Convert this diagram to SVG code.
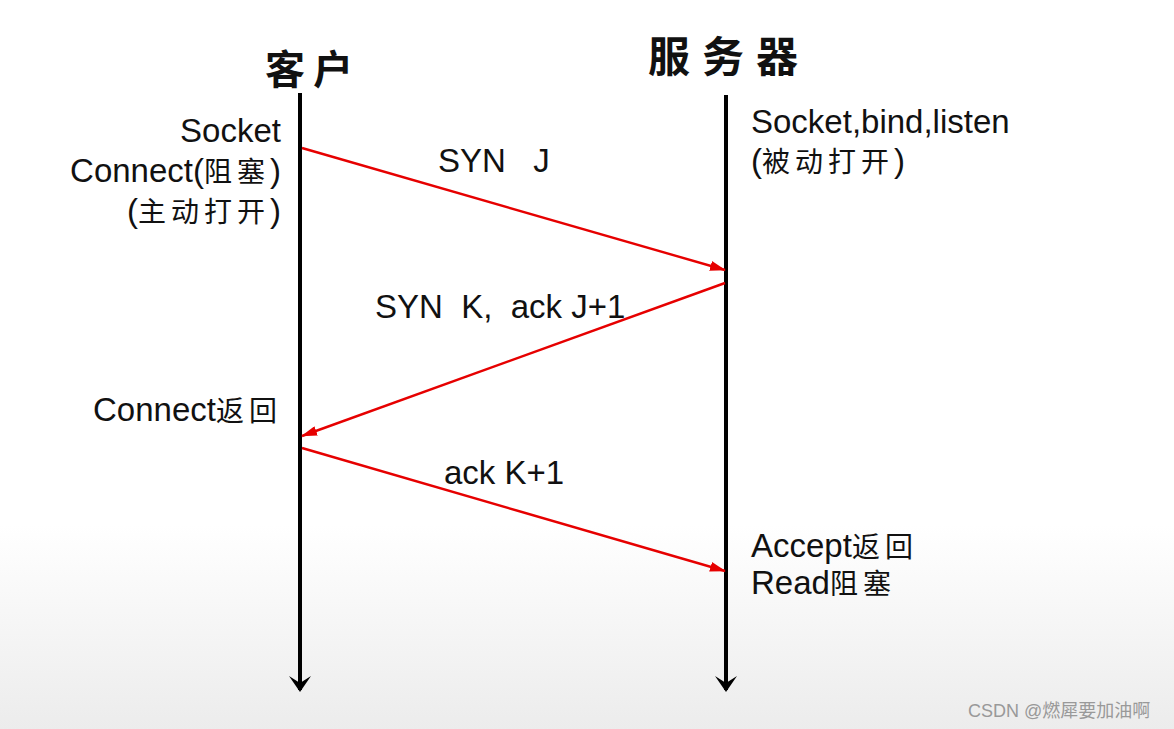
<svg xmlns="http://www.w3.org/2000/svg" width="1174" height="729" viewBox="0 0 1174 729">
<defs>
<linearGradient id="bg" x1="0" y1="0" x2="0" y2="1">
<stop offset="0" stop-color="#ffffff"/>
<stop offset="0.72" stop-color="#ffffff"/>
<stop offset="1" stop-color="#ececec"/>
</linearGradient>
<marker id="red" markerWidth="16" markerHeight="10" refX="15" refY="5" orient="auto" markerUnits="userSpaceOnUse">
<path d="M0,0 L16,5 L0,10 Z" fill="#e60000"/>
</marker>
<marker id="blk" markerWidth="24" markerHeight="20" refX="12" refY="18" orient="0" markerUnits="userSpaceOnUse">
<path d="M1,4 L12,11 L23,4 L12,20 Z" fill="#000"/>
</marker>
</defs>
<style>
.t{font-family:"Liberation Sans",Arial,"Noto Sans CJK SC",sans-serif;font-size:33px;fill:#111}
.c{font-family:"Noto Sans CJK SC",sans-serif;font-size:28px;letter-spacing:5px}
.h{font-family:"Noto Sans CJK SC",sans-serif;font-weight:bold;fill:#111}
.life{stroke:#000;stroke-width:4;fill:none}
.msg{stroke:#e60000;stroke-width:2.4;fill:none}
</style>
<rect width="1174" height="729" fill="url(#bg)"/>
<g id="client">
<text class="h" x="265" y="84" font-size="40" letter-spacing="8">客户</text>
<line class="life" x1="300" y1="93" x2="300" y2="690" marker-end="url(#blk)"/>
<text class="t" x="281" y="142" text-anchor="end">Socket</text>
<text class="t" x="281" y="182" text-anchor="end">Connect(<tspan class="c">阻塞</tspan>)</text>
<text class="t" x="281" y="222" text-anchor="end">(<tspan class="c">主动打开</tspan>)</text>
<text class="t" x="93" y="421">Connect<tspan class="c" letter-spacing="2">返回</tspan></text>
</g>
<g id="server">
<text class="h" x="648" y="72" font-size="42" letter-spacing="12">服务器</text>
<line class="life" x1="726" y1="95" x2="726" y2="690" marker-end="url(#blk)"/>
<text class="t" x="751" y="133">Socket,bind,listen</text>
<text class="t" x="751" y="172">(<tspan class="c">被动打开</tspan>)</text>
<text class="t" x="751" y="557">Accept<tspan class="c" letter-spacing="3">返回</tspan></text>
<text class="t" x="751" y="594">Read<tspan class="c" letter-spacing="6">阻塞</tspan></text>
</g>
<g id="connectors">
<line class="msg" x1="302" y1="148" x2="725" y2="270" marker-end="url(#red)"/>
<line class="msg" x1="725" y1="283" x2="302" y2="436" marker-end="url(#red)"/>
<line class="msg" x1="302" y1="448" x2="725" y2="571" marker-end="url(#red)"/>
<text class="t" x="438" y="172" xml:space="preserve">SYN   J</text>
<text class="t" x="375" y="318" xml:space="preserve">SYN  K,  ack J+1</text>
<text class="t" x="444" y="484">ack K+1</text>
</g>
<text x="968" y="717" font-family="'Liberation Sans','Noto Sans CJK SC',sans-serif" font-size="18" fill="#999">CSDN @燃犀要加油啊</text>
</svg>
